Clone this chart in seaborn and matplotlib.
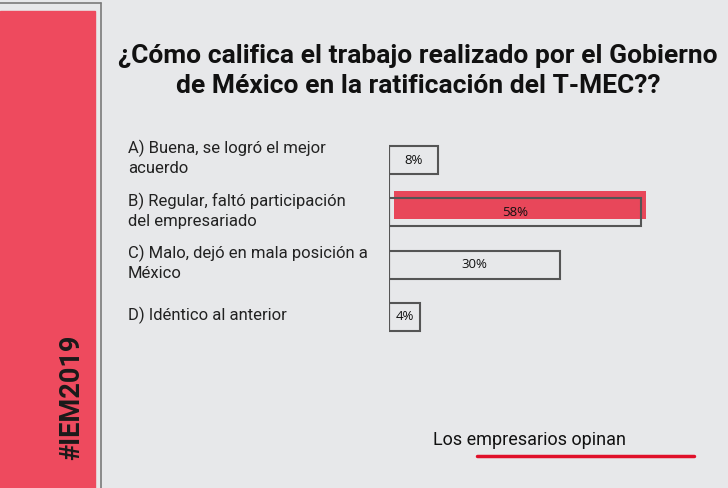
import matplotlib
matplotlib.use("Agg")
import matplotlib.pyplot as plt
import matplotlib.transforms as mtransforms
from matplotlib.patches import Rectangle
from matplotlib.lines import Line2D
import pandas as pd
import seaborn as sns

# Datos
respuestas = [
    "A) Buena, se logró el mejor\nacuerdo",
    "B) Regular, faltó participación\ndel empresariado",
    "C) Malo, dejó en mala posición a\nMéxico",
    "D) Idéntico al anterior",
]
porcentajes = ["8%", "58%", "30%", "4%"]
# largo de cada caja tal como se ve en la imagen (en %)
largos = [11.3, 58, 39.4, 7.1]
destacada = 1

titulo = "¿Cómo califica el trabajo realizado por el Gobierno\nde México en la ratificación del T-MEC??"

df = pd.DataFrame({"respuesta": respuestas, "largo": largos})

sns.set_theme(style="white")
plt.rcParams["font.family"] = ["Roboto", "DejaVu Sans"]

W, H = 728, 488
fig = plt.figure(figsize=(W / 100, H / 100), dpi=100)
fig.patch.set_facecolor("#e7e8ea")

# franja roja lateral y marco
fig.add_artist(Rectangle((0, 0), 95 / W, 1 - 11 / H, transform=fig.transFigure,
                         color="#ee4a5e", zorder=0))
fig.add_artist(Line2D([0, 101 / W], [1 - 3 / H] * 2, transform=fig.transFigure,
                      color="#7a7a7a", lw=1.2))
fig.add_artist(Line2D([101 / W] * 2, [0, 1 - 3 / H], transform=fig.transFigure,
                      color="#7a7a7a", lw=1.2))
fig.text(72 / W, 1 - 397 / H, "#IEM2019", rotation=90, ha="center", va="center",
         fontsize=19.5, fontweight="bold", color="#1a1a1a")

# titulo
fig.text(418 / W, 1 - 71 / H, titulo, ha="center", va="center", fontsize=19,
         fontweight="bold", color="#111111", linespacing=1.35)

# grafico
ax = fig.add_axes([389 / W, (H - 343) / H, 304 / W, 209 / H])
ax.set_facecolor("none")
ancho = 0.535
sns.barplot(data=df, x="largo", y="respuesta", orient="h", fill=False,
            color="#555555", width=ancho, linewidth=1.5, ax=ax, zorder=2)

# barra destacada (desplazada como en el original)
desplaz = mtransforms.offset_copy(ax.transData, fig=fig, x=5, y=7, units="dots")
ax.barh(destacada, largos[destacada], height=ancho, color="#e8475a", linewidth=0,
        transform=desplaz, zorder=1, clip_on=False)

ax.plot([0, 0], [-ancho / 2, 3 + ancho / 2], color="#555555", lw=1.5, zorder=3)

for i, txt in enumerate(porcentajes):
    ax.text(largos[i] / 2, i, txt, ha="center", va="center", fontsize=9.5,
            color="#111111", family=["Open Sans", "DejaVu Sans"], zorder=4)

for i, txt in enumerate(respuestas):
    fig.text(128 / W, 1 - (158 + i * 52.5) / H, txt, ha="left", va="center",
             fontsize=12, color="#222222", linespacing=1.35)

ax.set_xlim(0, 70)
ax.set_ylim(3.5, -0.5)
ax.set_xlabel("")
ax.set_ylabel("")
ax.set_xticks([])
ax.set_yticks([])
sns.despine(ax=ax, left=True, bottom=True)

# pie
fig.text(433 / W, 1 - 440 / H, "Los empresarios opinan", ha="left", va="center",
         fontsize=13, color="#111111")
fig.add_artist(Line2D([477 / W, 694 / W], [1 - 456 / H] * 2, transform=fig.transFigure,
                      color="#e0102a", lw=2.5))

fig.savefig("out.png", dpi=100, facecolor=fig.get_facecolor())
